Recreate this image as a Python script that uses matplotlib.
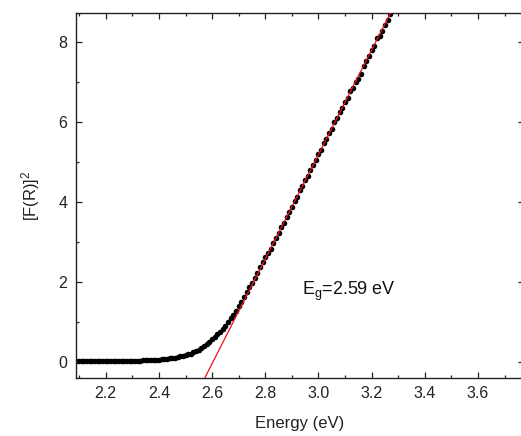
import numpy as np
import matplotlib
matplotlib.use("Agg")
import matplotlib.pyplot as plt
from matplotlib.ticker import MultipleLocator

plt.rcParams['font.family'] = ['Liberation Sans', 'DejaVu Sans']
plt.rcParams['mathtext.fontset'] = 'custom'
plt.rcParams['mathtext.rm'] = 'Liberation Sans'
plt.rcParams['mathtext.it'] = 'Liberation Sans'
plt.rcParams['mathtext.default'] = 'regular'

# ---- data ----
energy = np.round(np.arange(209, 329) / 100.0, 2)  # 2.09 ... 3.28 eV
fr2 = [
    # 2.09 - 2.20
    0.02, 0.02, 0.02, 0.02, 0.02, 0.02, 0.02, 0.02, 0.02, 0.02, 0.02, 0.02,
    # 2.21 - 2.30
    0.02, 0.02, 0.02, 0.02, 0.02, 0.03, 0.03, 0.03, 0.03, 0.03,
    # 2.31 - 2.40
    0.03, 0.03, 0.03, 0.04, 0.04, 0.04, 0.05, 0.05, 0.06, 0.06,
    # 2.41 - 2.50
    0.07, 0.08, 0.08, 0.09, 0.10, 0.11, 0.13, 0.14, 0.16, 0.18,
    # 2.51 - 2.60
    0.19, 0.21, 0.24, 0.27, 0.31, 0.35, 0.40, 0.45, 0.51, 0.57,
    # 2.61 - 2.70
    0.63, 0.69, 0.75, 0.83, 0.91, 1.00, 1.09, 1.18, 1.28, 1.39,
    # 2.71 - 2.80
    1.50, 1.62, 1.74, 1.86, 1.98, 2.10, 2.23, 2.36, 2.49, 2.62,
    # 2.81 - 2.90
    2.71, 2.83, 2.98, 3.09, 3.22, 3.37, 3.48, 3.63, 3.74, 3.88,
    # 2.91 - 3.00
    4.03, 4.12, 4.29, 4.40, 4.55, 4.64, 4.80, 4.93, 5.04, 5.20,
    # 3.01 - 3.10
    5.30, 5.46, 5.56, 5.72, 5.82, 5.98, 6.08, 6.25, 6.35, 6.50,
    # 3.11 - 3.20
    6.60, 6.76, 6.85, 6.98, 7.06, 7.20, 7.38, 7.52, 7.64, 7.80,
    # 3.21 - 3.28
    7.90, 8.08, 8.15, 8.26, 8.42, 8.55, 8.70, 8.85,
]

# linear fit (Tauc extrapolation)
fit_slope = 13.05
fit_intercept_energy = 2.603
fit_range = [2.50, 3.40]

xticks = [2.2, 2.4, 2.6, 2.8, 3.0, 3.2, 3.4, 3.6]
yticks = [0, 2, 4, 6, 8]
label_text = r'E$_g$=2.59 eV'

# ---- figure ----
W, H = 521, 436
fig = plt.figure(figsize=(W / 100, H / 100), dpi=100)
left, right, bottom, top = 75.7, 524.5, 377.7, 13.3
ax = fig.add_axes([left / W, (H - bottom) / H, (right - left) / W, (bottom - top) / H])

fx = np.array(fit_range)
fy = fit_slope * (fx - fit_intercept_energy)
ax.plot(fx, fy, color='#e8141c', lw=0.9, zorder=3)
ax.plot(energy, fr2, 'o', color='black', ms=4.0, mec='black', mew=0, zorder=2)

ax.set_xlim(2.087, 3.775)
ax.set_ylim(-0.392, 8.705)

ax.set_xticks(xticks)
ax.set_xticklabels([f'{v:.1f}' for v in xticks])
ax.set_yticks(yticks)
ax.set_yticklabels([str(v) for v in yticks])
ax.xaxis.set_minor_locator(MultipleLocator(0.1))
ax.yaxis.set_minor_locator(MultipleLocator(1))
ax.tick_params(which='both', direction='in', top=True, right=True,
               labelsize=11.5, colors='#222222', width=0.9)
ax.tick_params(which='major', length=4.5, pad=6)
ax.tick_params(which='minor', length=2.5)
for sp in ax.spines.values():
    sp.set_linewidth(1.0)
    sp.set_color('#222222')

ax.set_xlabel('Energy (eV)', fontsize=12, labelpad=11, color='#222222')
ax.set_ylabel(r'[F(R)]$^2$', fontsize=12, labelpad=12, color='#222222')

ax.text(2.94, 1.67, label_text, fontsize=13, ha='left', va='baseline', color='#111111')

fig.savefig('out.png', dpi=100)
